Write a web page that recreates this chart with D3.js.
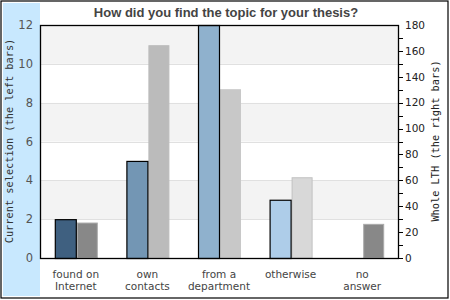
<!DOCTYPE html>
<html>
<head>
<meta charset="utf-8">
<script src="https://cdn.jsdelivr.net/npm/d3@7"></script>
<style>
  body { margin: 0; background: #fff; }
  svg { display: block; }
</style>
</head>
<body>
<div id="chart"></div>
<script>
const categories = [["found on", "Internet"], ["own", "contacts"], ["from a", "department"], ["otherwise"], ["no", "answer"]];
const currentValues = [2, 5, 12, 3, 0];
const wholeValues = [27, 164, 130, 62, 26];
const leftColors = ["#3f6080", "#7396b4", "#8fb1cd", "#aecde9", "#aecde9"];
const rightColors = ["#888888", "#bbbbbb", "#c8c8c8", "#d8d8d8", "#888888"];
const rightStrokes = ["#aaaaaa", "#bbbbbb", "#c8c8c8", "#c2c2c2", "#aaaaaa"];
const leftTicks = [0, 2, 4, 6, 8, 10, 12];
const rightTicks = d3.range(0, 181, 20);
const rightMinor = d3.range(0, 181, 10);

const width = 450, height = 300;
const plot = { left: 40, right: 398, top: 25, bottom: 258 };

const svg = d3.select("#chart").append("svg")
    .attr("width", width)
    .attr("height", height)
    .attr("font-family", "DejaVu Sans, sans-serif");

// frame + left panel
svg.append("rect")
    .attr("x", 1).attr("y", 1).attr("width", 447).attr("height", 297)
    .attr("fill", "#fff").attr("stroke", "#000").attr("stroke-width", 1.2);
svg.append("rect")
    .attr("x", 3).attr("y", 3).attr("width", 37).attr("height", 293)
    .attr("fill", "#c8e8fe");

const x = d3.scaleBand()
    .domain(categories.map((d, i) => i))
    .range([plot.left, plot.right]);
const yLeft = d3.scaleLinear().domain([0, 12]).range([plot.bottom, plot.top]);
const yRight = d3.scaleLinear().domain([0, 180]).range([plot.bottom, plot.top]);
const barW = 21;

// bands
const bands = d3.pairs(leftTicks);
svg.append("g").selectAll("rect")
    .data(bands)
    .join("rect")
    .attr("x", plot.left)
    .attr("width", plot.right - plot.left)
    .attr("y", d => yLeft(d[1]))
    .attr("height", d => yLeft(d[0]) - yLeft(d[1]))
    .attr("fill", (d, i) => i % 2 === 1 ? "#f3f3f3" : "#fff");

svg.append("g").selectAll("line")
    .data(leftTicks.slice(1, -1))
    .join("line")
    .attr("x1", plot.left).attr("x2", plot.right)
    .attr("y1", d => Math.round(yLeft(d)) + 0.5)
    .attr("y2", d => Math.round(yLeft(d)) + 0.5)
    .attr("stroke", "#e0e0e0");

// bars
const center = i => x(i) + x.bandwidth() / 2;

svg.append("g").selectAll("rect")
    .data(wholeValues)
    .join("rect")
    .attr("x", (d, i) => center(i) + 1.5)
    .attr("width", barW - 1)
    .attr("y", d => yRight(d))
    .attr("height", d => plot.bottom - yRight(d))
    .attr("fill", (d, i) => rightColors[i])
    .attr("stroke", (d, i) => rightStrokes[i]);

svg.append("g").selectAll("rect")
    .data(currentValues.map((v, i) => ({ v, i })).filter(d => d.v > 0))
    .join("rect")
    .attr("x", d => center(d.i) - barW + 0.5)
    .attr("width", barW)
    .attr("y", d => yLeft(d.v) + 0.5)
    .attr("height", d => plot.bottom - yLeft(d.v))
    .attr("fill", d => leftColors[d.i])
    .attr("stroke", "#000")
    .attr("stroke-width", 1.2);

// plot border
svg.append("rect")
    .attr("x", plot.left + 0.5).attr("y", plot.top + 0.5)
    .attr("width", plot.right - plot.left).attr("height", plot.bottom - plot.top)
    .attr("fill", "none").attr("stroke", "#000").attr("stroke-width", 1.3);

// left axis labels
svg.append("g").selectAll("text")
    .data(leftTicks)
    .join("text")
    .attr("x", 33)
    .attr("y", d => yLeft(d))
    .attr("dy", "0.36em")
    .attr("text-anchor", "end")
    .attr("font-size", 11.5)
    .attr("fill", "#555")
    .text(d => d);

// right axis ticks + labels
svg.append("g").selectAll("line")
    .data(rightMinor.slice(0, -1))
    .join("line")
    .attr("x1", plot.right).attr("x2", plot.right + 5)
    .attr("y1", d => Math.round(yRight(d)) + 0.5)
    .attr("y2", d => Math.round(yRight(d)) + 0.5)
    .attr("stroke", "#000");

svg.append("g").selectAll("text")
    .data(rightTicks)
    .join("text")
    .attr("x", 405)
    .attr("y", d => yRight(d))
    .attr("dy", "0.36em")
    .attr("font-size", 10.5)
    .attr("fill", "#222")
    .text(d => d);

// category labels
svg.append("g").selectAll("text")
    .data(categories)
    .join("text")
    .attr("x", (d, i) => center(i))
    .attr("y", 278)
    .attr("text-anchor", "middle")
    .attr("font-size", 10.5)
    .attr("fill", "#444")
    .each(function (d) {
        d3.select(this).selectAll("tspan")
            .data(d)
            .join("tspan")
            .attr("x", d3.select(this).attr("x"))
            .attr("dy", (t, j) => j === 0 ? 0 : 12)
            .text(t => t);
    });

// title
svg.append("text")
    .attr("x", 226).attr("y", 17)
    .attr("text-anchor", "middle")
    .attr("font-family", "Liberation Sans, Arial, sans-serif")
    .attr("font-weight", "bold")
    .attr("font-size", 13)
    .attr("fill", "#444")
    .text("How did you find the topic for your thesis?");

// axis titles
svg.append("text")
    .attr("transform", "translate(13,141) rotate(-90)")
    .attr("text-anchor", "middle")
    .attr("font-family", "DejaVu Sans Mono, monospace")
    .attr("font-size", 10.3)
    .attr("fill", "#333")
    .text("Current selection (the left bars)");

svg.append("text")
    .attr("transform", "translate(439,141) rotate(-90)")
    .attr("text-anchor", "middle")
    .attr("font-family", "DejaVu Sans Mono, monospace")
    .attr("font-size", 10.3)
    .attr("fill", "#222")
    .text("Whole LTH (the right bars)");
</script>
</body>
</html>
